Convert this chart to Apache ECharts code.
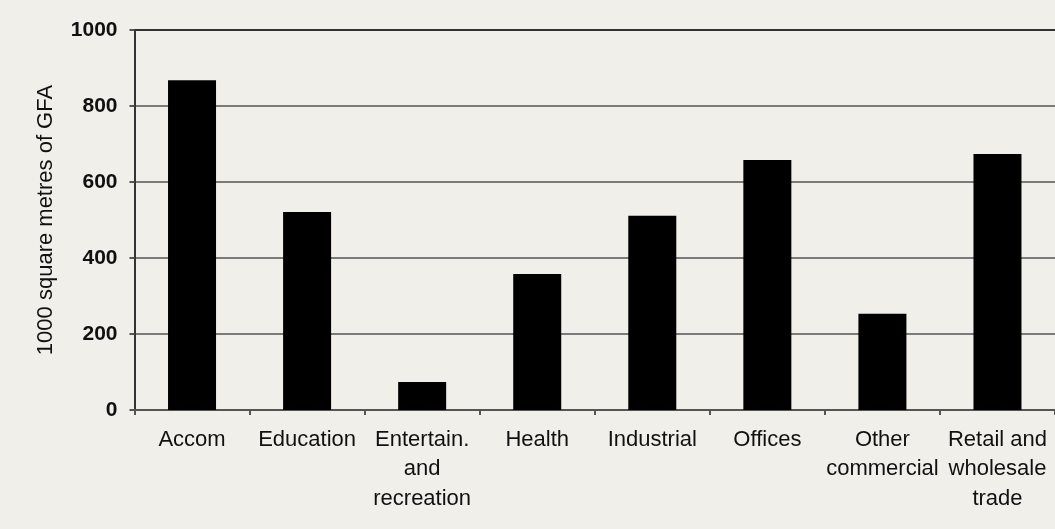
<!DOCTYPE html>
<html>
<head>
<meta charset="utf-8">
<title>Floor area by building type</title>
<script src="https://cdn.jsdelivr.net/npm/echarts@6/dist/echarts.min.js"></script>
<style>
  html, body { margin: 0; padding: 0; background: #f0efea; }
  #chart { width: 1055px; height: 529px; }
</style>
</head>
<body>
<div id="chart"></div>
<script>
// Building types along the horizontal axis
const categories = [
  'Accom',
  'Education',
  'Entertain.\nand\nrecreation',
  'Health',
  'Industrial',
  'Offices',
  'Other\ncommercial',
  'Retail and\nwholesale\ntrade'
];

// Gross floor area, thousands of square metres
const floorArea = [868, 521, 74, 358, 511, 658, 253, 674];

// Value axis range and step
const yMin = 0;
const yMax = 1000;
const yStep = 200;

const fontFamily = 'Liberation Sans, Arial, sans-serif';

const chart = echarts.init(document.getElementById('chart'), null, { renderer: 'canvas' });

chart.setOption({
  backgroundColor: '#f0efea',
  animation: false,
  textStyle: { fontFamily: fontFamily },
  grid: {
    left: 134.5,
    top: 30,
    width: 923,
    bottom: 119,
    show: false
  },
  xAxis: [{
    type: 'category',
    data: categories,
    axisLine: { show: true, lineStyle: { color: '#555555', width: 2 } },
    axisTick: { show: true, length: 5, lineStyle: { color: '#555555', width: 2 } },
    axisLabel: {
      interval: 0,
      margin: 15,
      fontSize: 22,
      lineHeight: 29.5,
      color: '#111111',
      fontFamily: fontFamily
    },
    splitLine: { show: false }
  }, {
    // plain frame line along the top of the plot
    type: 'category',
    position: 'top',
    data: categories,
    axisLine: { show: true, lineStyle: { color: '#333333', width: 2 } },
    axisTick: { show: false },
    axisLabel: { show: false },
    splitLine: { show: false }
  }],
  yAxis: {
    type: 'value',
    min: yMin,
    max: yMax,
    interval: yStep,
    name: '1000 square metres of GFA',
    nameLocation: 'middle',
    nameGap: 78,
    nameRotate: 90,
    nameTextStyle: {
      fontSize: 22,
      color: '#111111',
      fontFamily: fontFamily
    },
    axisLine: { show: true, lineStyle: { color: '#333333', width: 2 } },
    axisTick: { show: true, length: 5, lineStyle: { color: '#555555', width: 2 } },
    axisLabel: {
      margin: 17,
      fontSize: 21,
      fontWeight: 'bold',
      color: '#111111',
      fontFamily: fontFamily,
      formatter: function (v) { return String(v); }
    },
    splitLine: { show: true, lineStyle: { color: '#7a7a7a', width: 2 } }
  },
  series: [{
    type: 'bar',
    xAxisIndex: 0,
    data: floorArea,
    barWidth: 48,
    itemStyle: { color: '#000000' },
    silent: true
  }]
});
</script>
</body>
</html>
